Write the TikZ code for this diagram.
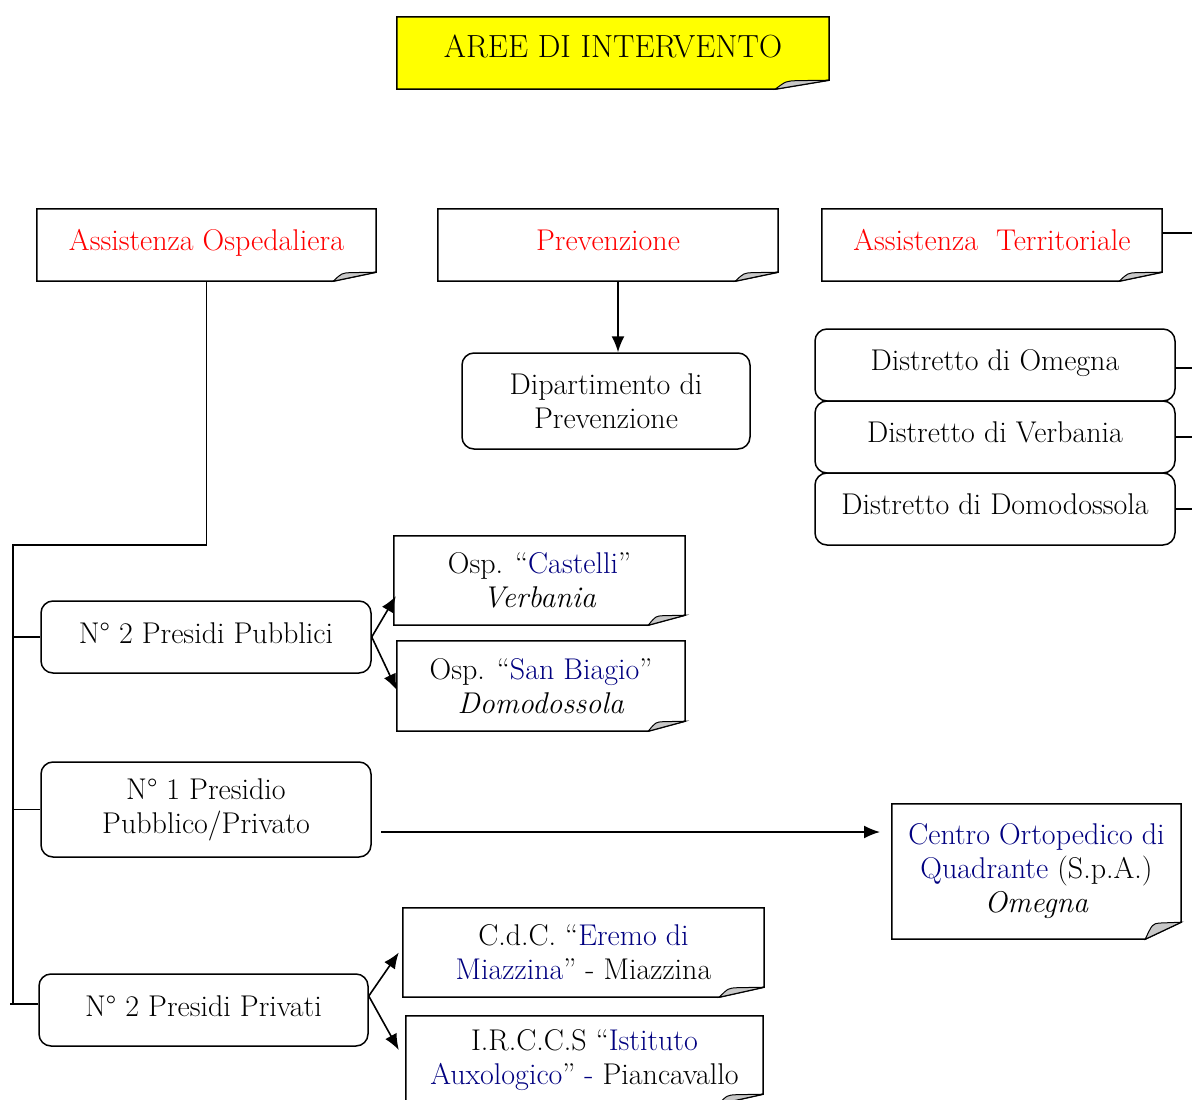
\documentclass[tikz,border=0pt]{standalone}
\usepackage{fontspec}
\usetikzlibrary{arrows.meta,calc,backgrounds}
\definecolor{navy}{RGB}{0,0,128}
\definecolor{hdred}{RGB}{255,0,0}
\definecolor{curlgray}{RGB}{200,200,200}
\definecolor{noteyellow}{RGB}{255,255,0}

\newcommand\pagecurl[4][white]{%
  \begin{scope}[on background layer]
    \draw[line width=1.5pt,fill=#1] ($(#2.south east)+(-#3,0)$) -- (#2.south west)
      -- (#2.north west) -- (#2.north east) -- ($(#2.south east)+(0,-#4)$) -- cycle;
    \draw[line width=1pt,fill=curlgray] ($(#2.south east)+(-#3,0)$)
      .. controls ($(#2.south east)+(-0.8*#3,-0.9*#4)$) .. ($(#2.south east)+(-0.6*#3,-0.95*#4)$)
      -- ($(#2.south east)+(0,-#4)$) -- cycle;
  \end{scope}}

\begin{document}
\begin{tikzpicture}[
    x=1pt, y=-1pt,
    font=\fontsize{30}{34}\selectfont,
    note/.style={align=center,inner sep=0pt},
    rbox/.style={note,draw=black,line width=1.5pt,rounded corners=12pt},
    link/.style={line width=1.6pt,draw=black},
    arr/.style={link,-{Latex[length=16pt,width=13pt]}},
    ]
  \clip (0,0) rectangle (1192,1100);

  \node[note,text depth=14pt,font=\fontsize{32}{36}\selectfont,minimum width=432pt,minimum height=72pt] (title) at (613,53) {AREE DI INTERVENTO};

  \node[note,text depth=10pt,text=hdred,minimum width=339pt,minimum height=72pt] (osped) at (206.5,245) {Assistenza Ospedaliera};
  \node[note,text depth=10pt,text=hdred,minimum width=340pt,minimum height=72pt] (prev) at (608,245) {Prevenzione};
  \node[note,text depth=10pt,text=hdred,minimum width=340pt,minimum height=72pt] (terr) at (992,245) {Assistenza\hspace{0.6em}Territoriale};

  \node[rbox,minimum width=288pt,minimum height=96pt] (dip) at (606,401) {Dipartimento di\\Prevenzione};

  \node[rbox,text depth=9pt,minimum width=360pt,minimum height=72pt] (omegna) at (995,365) {Distretto di Omegna};
  \node[rbox,text depth=9pt,minimum width=360pt,minimum height=72pt] (verbania) at (995,437) {Distretto di Verbania};
  \node[rbox,text depth=9pt,minimum width=360pt,minimum height=72pt] (domo) at (995,509) {Distretto di Domodossola};

  \node[rbox,text depth=8pt,minimum width=330pt,minimum height=72pt] (pubb) at (206,637) {N° 2 Presidi Pubblici};
  \node[rbox,minimum width=330pt,minimum height=95pt] (misto) at (206,809.5) {N° 1 Presidio\\Pubblico/Privato};
  \node[rbox,text depth=8pt,minimum width=329pt,minimum height=72pt] (priv) at (203.5,1010) {N° 2 Presidi Privati};

  \node[note,minimum width=291pt,minimum height=89pt] (castelli) at (539.5,580.5)
    {Osp. “\textcolor{navy}{Castelli}”\\\textit{Verbania}};
  \node[note,minimum width=288pt,minimum height=90pt] (biagio) at (541,686)
    {Osp. “\textcolor{navy}{San Biagio}”\\\textit{Domodossola}};
  \node[note,minimum width=289pt,minimum height=135pt] (centro) at (1036.5,871.5)
    {\textcolor{navy}{Centro Ortopedico di}\\\textcolor{navy}{Quadrante} (S.p.A.)\\\textit{Omegna}};
  \node[note,minimum width=361pt,minimum height=89pt] (eremo) at (583.5,952.5)
    {C.d.C. “\textcolor{navy}{Eremo di}\\\textcolor{navy}{Miazzina}” - Miazzina};
  \node[note,minimum width=357pt,minimum height=88pt] (irccs) at (584.5,1060)
    {I.R.C.C.S “\textcolor{navy}{Istituto}\\\textcolor{navy}{Auxologico}” \textcolor{navy}{-} Piancavallo};

  \pagecurl[noteyellow]{title}{54}{9}
  \pagecurl{osped}{43}{9}
  \pagecurl{prev}{43}{9}
  \pagecurl{terr}{43}{9}
  \pagecurl{castelli}{37}{10}
  \pagecurl{biagio}{37}{10}
  \pagecurl{centro}{36}{17}
  \pagecurl{eremo}{45}{10}
  \pagecurl{irccs}{45}{10}

  \coordinate (spine) at (13,545);
  \coordinate (spineend) at (13,1004);
  \coordinate (cstart) at (381,832);
  \coordinate (cend) at (880,832);

  \draw[link] (osped.south) |- (spine) -- (spineend);
  \draw[link] (spine |- pubb.west) -- (pubb.west);
  \draw[link] (spine |- misto.west) -- (misto.west);
  \draw[link] ($(spineend)+(-3,0)$) -- (priv.west |- spineend);

  \draw[arr] ($(prev.south)+(10,0)$) -- ($(dip.north)+(12,0)$);

  \draw[link] ($(terr.east)+(0,-12)$) -- ++(40,0);
  \draw[link] ($(omegna.east)+(0,3)$) -- ++(30,0);
  \draw[link] (verbania.east) -- ++(30,0);
  \draw[link] (domo.east) -- ++(30,0);

  \draw[arr] (pubb.east) -- ($(castelli.west)!0.35!(castelli.south west)+(2,0)$);
  \draw[arr] (pubb.east) -- ($(biagio.west)+(0,4)$);

  \draw[arr] (cstart) -- (cend);

  \draw[arr] ($(priv.east)+(0,-14)$) -- ($(eremo.west)+(-4,0)$);
  \draw[arr] ($(priv.east)+(0,-14)$) -- ($(irccs.west)+(-7,-10)$);
\end{tikzpicture}
\end{document}
